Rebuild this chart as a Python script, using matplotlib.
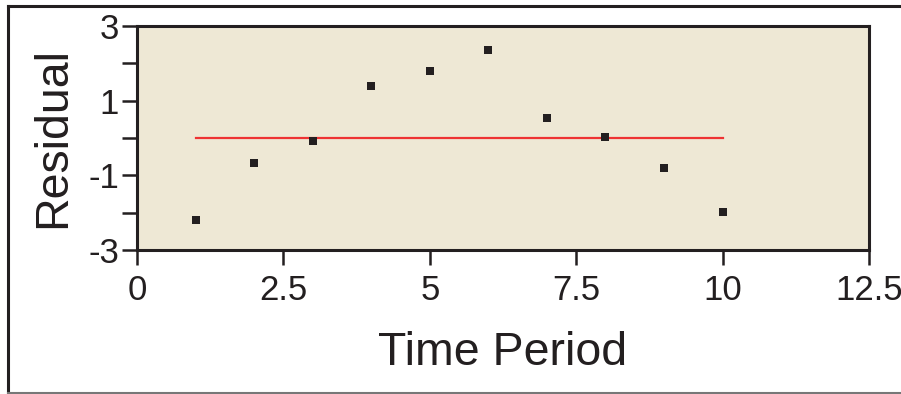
import matplotlib
matplotlib.use("Agg")
import matplotlib.pyplot as plt
from matplotlib.lines import Line2D
from matplotlib.ticker import FixedLocator

plt.rcParams['font.family'] = ['Liberation Sans', 'DejaVu Sans']

time_period = [1, 2, 3, 4, 5, 6, 7, 8, 9, 10]
residual = [-2.2, -0.67, -0.08, 1.39, 1.79, 2.36, 0.54, 0.03, -0.80, -1.98]
ref_line_x = [1, 10]
ref_line_y = [0, 0]
x_ticks = [0, 2.5, 5, 7.5, 10, 12.5]
x_tick_labels = ["0", "2.5", "5", "7.5", "10", "12.5"]
y_ticks = [-3, -2, -1, 0, 1, 2, 3]
y_tick_labels = ["-3", "", "-1", "", "1", "", "3"]

W, H = 901, 394
fig = plt.figure(figsize=(W / 100, H / 100), dpi=100)
fig.patch.set_facecolor('white')

ax = fig.add_axes([137 / W, 1 - 250 / H, (869 - 137) / W, (250 - 26) / H])
ax.set_facecolor('#EEE8D5')

ax.plot(ref_line_x, ref_line_y, color='#EE3333', lw=1.6, zorder=2)
ax.scatter(time_period, residual, marker='s', s=30, color='#231F20', zorder=3, linewidths=0)

ax.set_xlim(0, 12.5)
ax.set_ylim(-3, 3)
ax.xaxis.set_major_locator(FixedLocator(x_ticks))
ax.set_xticklabels(x_tick_labels)
ax.yaxis.set_major_locator(FixedLocator(y_ticks))
ax.set_yticklabels(y_tick_labels)

for s in ax.spines.values():
    s.set_linewidth(2.2)
    s.set_color('#231F20')

ax.tick_params(axis='both', direction='out', length=11, width=1.8, color='#231F20',
               labelsize=25, labelcolor='#231F20', pad=6)
ax.tick_params(axis='y', pad=2)

ax.set_xlabel('Time Period', fontsize=33.5, color='#231F20')
ax.set_ylabel('Residual', fontsize=33.5, color='#231F20')
ax.xaxis.set_label_coords(0.5, -0.36)
ax.yaxis.set_label_coords(-0.085, 0.5)

# figure border
fig.add_artist(Line2D([8 / W, 1], [1 - 6 / H, 1 - 6 / H], color='#231F20', lw=2.2))
fig.add_artist(Line2D([8 / W, 8 / W], [1 - 6 / H, 1 - 393 / H], color='#231F20', lw=2.2))
fig.add_artist(Line2D([8 / W, 1], [1 - 393 / H, 1 - 393 / H], color='#777777', lw=1.5))

fig.savefig('out.png', dpi=100)
